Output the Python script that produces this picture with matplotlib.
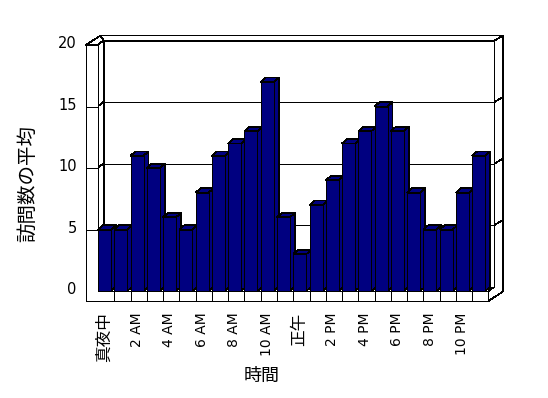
import matplotlib
matplotlib.use("Agg")  # no display
from matplotlib import pyplot as plt
from matplotlib.patches import Polygon

# average visits per hour of day
hour_labels = [
    "真夜中", "1 AM", "2 AM", "3 AM", "4 AM", "5 AM", "6 AM", "7 AM",
    "8 AM", "9 AM", "10 AM", "11 AM", "正午", "1 PM", "2 PM", "3 PM",
    "4 PM", "5 PM", "6 PM", "7 PM", "8 PM", "9 PM", "10 PM", "11 PM",
]
visits = [5, 5, 11, 10, 6, 5, 8, 11, 12, 13, 17, 6,
          3, 7, 9, 12, 13, 15, 13, 8, 5, 5, 8, 11]
y_ticks = [0, 5, 10, 15, 20]
x_title = "時間"
y_title = "訪問数の平均"

plt.rcParams["font.family"] = ["DejaVu Sans", "Noto Sans CJK JP"]
plt.rcParams["patch.antialiased"] = False
plt.rcParams["lines.antialiased"] = False

# pixel scale of one category / one value unit on the front plane
PX_X = 16.27
PX_Y = 12.3
BAR_D = (5 / PX_X, 4.3 / PX_Y)     # bar depth
IN_D = (6 / PX_X, 4.5 / PX_Y)      # front face of back wall
OUT_D = (14.5 / PX_X, 9.5 / PX_Y)  # back face of back wall
NAVY = "#000080"
LW = 0.5

fig = plt.figure(figsize=(5.48, 3.98), dpi=100)
ax = fig.add_axes([0, 0, 1, 1])
ax.set_xlim(-98 / PX_X, 450 / PX_X)
ax.set_ylim(-107 / PX_Y, 291 / PX_Y)
ax.axis("off")

n = len(visits)
ymax = y_ticks[-1]
wall_l = -12 / PX_X
wall_r = -0.5 / PX_X
floor_b = -10 / PX_Y


def face(pts, z):
    ax.add_patch(Polygon(pts, closed=True, facecolor="white",
                         edgecolor="black", linewidth=LW, zorder=z))


def seg(p, q, z):
    ax.plot([p[0], q[0]], [p[1], q[1]], color="black", linewidth=LW, zorder=z)


# back wall top face
face([(wall_l + OUT_D[0], ymax + OUT_D[1]), (n + OUT_D[0], ymax + OUT_D[1]),
      (n + IN_D[0], ymax + IN_D[1]), (wall_r + IN_D[0], ymax + IN_D[1])], 1)
# right side of back wall + floor
face([(n, floor_b), (n + OUT_D[0], floor_b + OUT_D[1]),
      (n + OUT_D[0], ymax + OUT_D[1]), (n + IN_D[0], ymax + IN_D[1]),
      (n + IN_D[0], IN_D[1]), (n, 0)], 1)
for v in y_ticks[1:-1]:
    seg((n + IN_D[0], v + IN_D[1]), (n + OUT_D[0], v + OUT_D[1]), 1.5)
# back wall front face with gridlines
face([(wall_r + IN_D[0], IN_D[1]), (n + IN_D[0], IN_D[1]),
      (n + IN_D[0], ymax + IN_D[1]), (wall_r + IN_D[0], ymax + IN_D[1])], 2)
for v in y_ticks[1:-1]:
    seg((wall_r + IN_D[0], v + IN_D[1]), (n + IN_D[0], v + IN_D[1]), 2.5)
# left wall inner face
face([(wall_r, 0), (wall_r, ymax), (wall_r + IN_D[0], ymax + IN_D[1]),
      (wall_r + IN_D[0], IN_D[1])], 3)
for v in y_ticks[1:-1]:
    seg((wall_r, v), (wall_r + IN_D[0], v + IN_D[1]), 3.5)
# left wall top
face([(wall_l, ymax), (wall_r, ymax), (wall_r + IN_D[0], ymax + IN_D[1]),
      (wall_l + OUT_D[0], ymax + OUT_D[1])], 4)
# front of left wall and floor
face([(wall_l, ymax), (wall_r, ymax), (wall_r, 0), (n, 0), (n, floor_b),
      (wall_l, floor_b)], 5)
for v in y_ticks[1:-1]:
    seg((wall_l, v), (wall_r, v), 5.5)
for i in range(1, n):
    seg((i, 0), (i, floor_b), 5.5)

# bars: front face, then side and top
w = 0.8
bars = ax.bar(range(n), visits, width=w, align="edge", color=NAVY,
              edgecolor="black", linewidth=LW)
for i, (rect, v) in enumerate(zip(bars, visits)):
    rect.set_zorder(10 + 3 * i + 2)
    side = [(i + w, 0), (i + w + BAR_D[0], BAR_D[1]),
            (i + w + BAR_D[0], v + BAR_D[1]), (i + w, v)]
    top = [(i, v), (i + w, v), (i + w + BAR_D[0], v + BAR_D[1]),
           (i + BAR_D[0], v + BAR_D[1])]
    for pts in (side, top):
        ax.add_patch(Polygon(pts, closed=True, facecolor=NAVY,
                             edgecolor="black", linewidth=LW,
                             zorder=10 + 3 * i + 1))

# tick labels
for v in y_ticks:
    ax.text(-21.3 / PX_X, v + 0.1, str(v), ha="right", va="center",
            fontsize=10.5)
for i in range(0, n, 2):
    lab = hour_labels[i]
    cjk = any(ord(c) > 0x3000 for c in lab)
    ax.text(i + 0.38, -21.5 / PX_Y, lab, rotation=90, ha="center", va="top",
            fontsize=12 if cjk else 10)

ax.text(164 / PX_X, -84.7 / PX_Y, x_title, ha="center", va="center",
        fontsize=13)
ax.text(-70 / PX_X, 108 / PX_Y, y_title, rotation=90, ha="center",
        va="center", fontsize=14)

fig.savefig("out.png", dpi=100)
plt.close(fig)
